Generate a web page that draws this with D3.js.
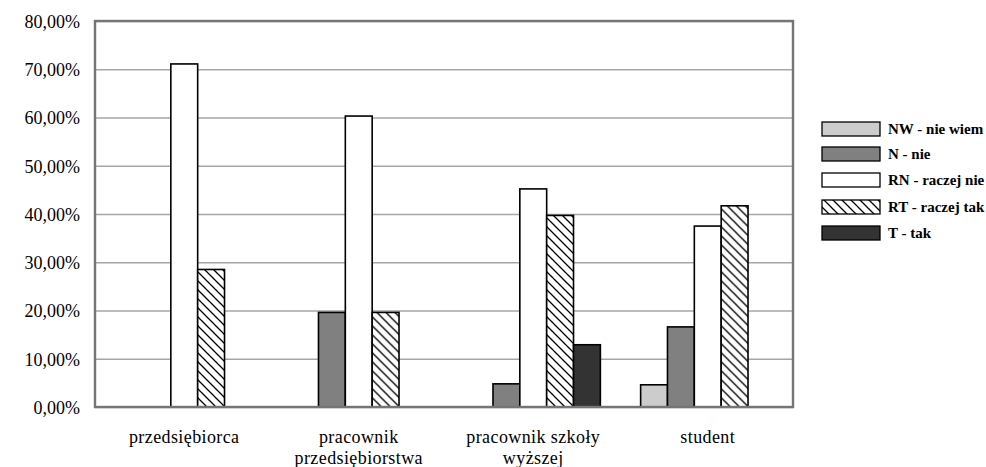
<!DOCTYPE html>
<html>
<head>
<meta charset="utf-8">
<script src="https://cdn.jsdelivr.net/npm/d3@7"></script>
<style>
  body { margin: 0; background: #fff; }
  svg { display: block; }
  .tick-label { font-family: "Liberation Serif", serif; font-size: 18px; fill: #000; }
  .cat-label { font-family: "Liberation Serif", serif; font-size: 18px; fill: #000; letter-spacing: 0.4px; }
  .legend-label { font-family: "Liberation Serif", serif; font-size: 15px; font-weight: bold; fill: #000; }
</style>
</head>
<body>
<script>
// Respondent groups (two-line labels where the axis wraps)
const categories = ["przedsiębiorca", "pracownik przedsiębiorstwa", "pracownik szkoły wyższej", "student"];
const categoryLines = [["przedsiębiorca"], ["pracownik", "przedsiębiorstwa"], ["pracownik szkoły", "wyższej"], ["student"]];

// Answer series, in legend order
const seriesNames = ["NW - nie wiem", "N - nie", "RN - raczej nie", "RT - raczej tak", "T - tak"];
const seriesKeys = ["NW", "N", "RN", "RT", "T"];

// Share of answers (%) per group, one array per series
const valuesNW = [0, 0, 0, 4.6];
const valuesN  = [0, 19.6, 4.8, 16.6];
const valuesRN = [71.1, 60.3, 45.2, 37.5];
const valuesRT = [28.5, 19.6, 39.7, 41.7];
const valuesT  = [0, 0, 12.9, 0];

const yTicks = [0, 10, 20, 30, 40, 50, 60, 70, 80];
const yTickLabels = ["0,00%", "10,00%", "20,00%", "30,00%", "40,00%", "50,00%", "60,00%", "70,00%", "80,00%"];

const seriesValues = [valuesNW, valuesN, valuesRN, valuesRT, valuesT];

const W = 986, H = 467;
const plot = { left: 95, right: 793, top: 21, bottom: 407 };

const svg = d3.select("body").append("svg").attr("width", W).attr("height", H);

// Diagonal hatch for "raczej tak"
const defs = svg.append("defs");
const pat = defs.append("pattern")
  .attr("id", "hatch").attr("patternUnits", "userSpaceOnUse")
  .attr("width", 9).attr("height", 9);
pat.append("rect").attr("width", 9).attr("height", 9).attr("fill", "#fff");
pat.append("path")
  .attr("d", "M0,0 L9,9 M-2,7 L2,11 M7,-2 L11,2")
  .attr("stroke", "#000").attr("stroke-width", 1.3);

const fills = ["#cccccc", "#808080", "#ffffff", "url(#hatch)", "#333333"];

const y = d3.scaleLinear().domain([0, 80]).range([plot.bottom, plot.top]);
const x0 = d3.scaleBand().domain(categories).range([plot.left + 2, plot.right + 2]).paddingInner(0).paddingOuter(0);
const barW = x0.bandwidth() / 6.5;
const x1 = d3.scaleBand().domain(seriesKeys)
  .range([(x0.bandwidth() - 5 * barW) / 2, (x0.bandwidth() + 5 * barW) / 2]).padding(0);

// Horizontal gridlines and value labels
const yAxis = d3.axisLeft(y).tickValues(yTicks).tickSize(-(plot.right - plot.left)).tickFormat((d, i) => yTickLabels[i]);
const gy = svg.append("g").attr("transform", `translate(${plot.left},0)`).call(yAxis);
gy.select(".domain").remove();
gy.selectAll(".tick line").attr("stroke", "#a6a6a6").attr("stroke-width", 1.6);
gy.selectAll(".tick text").attr("class", "tick-label").attr("x", -15).attr("dy", "0.35em");

// Bars
const groups = svg.append("g").selectAll("g")
  .data(categories)
  .join("g")
  .attr("transform", d => `translate(${x0(d)},0)`);

groups.each(function (cat, ci) {
  const g = d3.select(this);
  seriesKeys.forEach((key, si) => {
    const v = seriesValues[si][ci];
    if (v <= 0) return;
    g.append("rect")
      .attr("x", x1(key))
      .attr("y", y(v))
      .attr("width", x1.bandwidth())
      .attr("height", y(0) - y(v))
      .attr("fill", fills[si])
      .attr("stroke", "#000")
      .attr("stroke-width", 1.6);
  });
});

// Plot frame
svg.append("rect")
  .attr("x", plot.left).attr("y", plot.top)
  .attr("width", plot.right - plot.left).attr("height", plot.bottom - plot.top)
  .attr("fill", "none").attr("stroke", "#757575").attr("stroke-width", 2.4);

// Category labels
const xAxisG = svg.append("g");
categories.forEach((cat, ci) => {
  const cx = x0(cat) + x0.bandwidth() / 2;
  const t = xAxisG.append("text").attr("class", "cat-label").attr("text-anchor", "middle")
    .attr("x", cx).attr("y", 443);
  categoryLines[ci].forEach((line, li) => {
    t.append("tspan").attr("x", cx).attr("dy", li === 0 ? 0 : 21).text(line);
  });
});

// Legend
const legend = svg.append("g").attr("transform", "translate(822,0)");
const legendY = [129, 154, 180, 207, 233];
seriesNames.forEach((name, i) => {
  legend.append("rect")
    .attr("x", 0).attr("y", legendY[i] - 7)
    .attr("width", 58).attr("height", 14)
    .attr("fill", fills[i]).attr("stroke", "#000").attr("stroke-width", 1.3);
  legend.append("text").attr("class", "legend-label")
    .attr("x", 66).attr("y", legendY[i]).attr("dy", "0.35em").text(name);
});
</script>
</body>
</html>
